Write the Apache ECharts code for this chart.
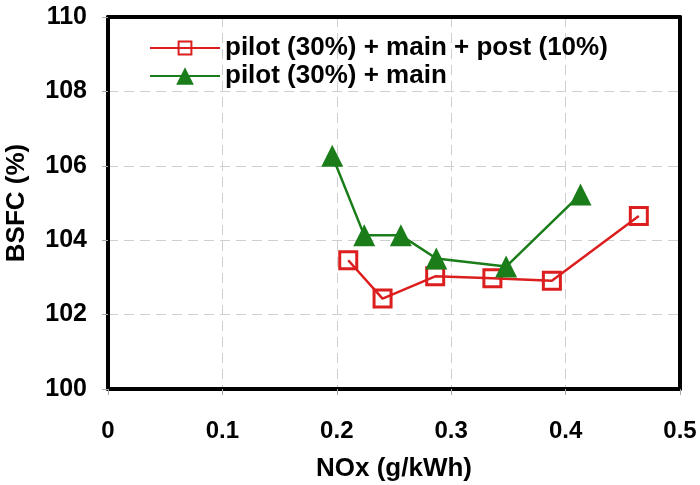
<!DOCTYPE html>
<html>
<head>
<meta charset="utf-8">
<script src="https://cdn.jsdelivr.net/npm/echarts@6/dist/echarts.min.js"></script>
<style>
  html, body { margin: 0; padding: 0; background: #fff; }
  #chart { width: 700px; height: 485px; }
</style>
</head>
<body>
<div id="chart"></div>
<script>
// NOx emissions (g/kWh) and relative BSFC (%) for the two injection strategies
const seriesNames = ['pilot (30%) + main + post (10%)', 'pilot (30%) + main'];

const postNOx  = [0.210, 0.240, 0.286, 0.336, 0.388, 0.464];
const postBSFC = [103.46, 102.43, 103.03, 102.98, 102.91, 104.65];

const mainNOx  = [0.196, 0.224, 0.256, 0.287, 0.348, 0.413];
const mainBSFC = [106.27, 104.13, 104.13, 103.51, 103.29, 105.23];

const xTickLabels = ['0', '0.1', '0.2', '0.3', '0.4', '0.5'];
const yTickLabels = ['100', '102', '104', '106', '108', '110'];

const RED = '#dc1e1e';
const GREEN = '#1a7d1a';
const FONT = '"Liberation Sans", Arial, sans-serif';

function pairs(xs, ys) {
  return xs.map((x, i) => [x, ys[i]]);
}

const chart = echarts.init(document.getElementById('chart'), null, { renderer: 'canvas' });

const gridLine = { show: true, lineStyle: { color: '#cfcfcf', width: 1, type: [10, 6] } };
const frameLine = { show: true, onZero: false, lineStyle: { color: '#000', width: 4 } };
const tickStyle = { show: true, inside: false, length: 6, lineStyle: { color: '#aaa', width: 1 } };
const labelFont = { fontFamily: FONT, fontWeight: 'bold', color: '#000' };

// top and right axes only close the black frame around the plot
const frameX = {
  type: 'value', position: 'top', min: 0, max: 0.5, interval: 0.1,
  axisLine: frameLine, axisTick: { show: false }, axisLabel: { show: false }, splitLine: { show: false }
};
const frameY = {
  type: 'value', position: 'right', min: 100, max: 110, interval: 2,
  axisLine: frameLine, axisTick: { show: false }, axisLabel: { show: false }, splitLine: { show: false }
};

chart.setOption({
  animation: false,
  backgroundColor: '#fff',
  grid: { left: 108, right: 20, top: 17, bottom: 96, outerBoundsMode: 'none', containLabel: false },
  legend: [
    {
      data: [seriesNames[0]],
      orient: 'vertical',
      left: 144, top: 30,
      itemWidth: 70, itemHeight: 16,
      textStyle: Object.assign({ fontSize: 26 }, labelFont)
    },
    {
      data: [seriesNames[1]],
      orient: 'vertical',
      left: 144, top: 58,
      itemWidth: 70, itemHeight: 22,
      textStyle: Object.assign({ fontSize: 26 }, labelFont)
    }
  ],
  xAxis: [
    {
      type: 'value',
      position: 'bottom',
      min: 0, max: 0.5, interval: 0.1,
      name: 'NOx (g/kWh)',
      nameLocation: 'middle',
      nameGap: 67,
      nameTextStyle: Object.assign({ fontSize: 26 }, labelFont),
      axisLine: frameLine,
      axisTick: tickStyle,
      axisLabel: Object.assign({
        margin: 30, fontSize: 24,
        formatter: (v) => xTickLabels[Math.round(v * 10)]
      }, labelFont),
      splitLine: gridLine
    },
    frameX
  ],
  yAxis: [
    {
      type: 'value',
      position: 'left',
      min: 100, max: 110, interval: 2,
      name: 'BSFC (%)',
      nameLocation: 'middle',
      nameGap: 78,
      nameTextStyle: Object.assign({ fontSize: 26 }, labelFont),
      axisLine: frameLine,
      axisTick: tickStyle,
      axisLabel: Object.assign({
        margin: 21, fontSize: 25,
        formatter: (v) => yTickLabels[Math.round((v - 100) / 2)]
      }, labelFont),
      splitLine: gridLine
    },
    frameY
  ],
  series: [
    {
      name: seriesNames[0],
      type: 'line',
      xAxisIndex: 0, yAxisIndex: 0,
      data: pairs(postNOx, postBSFC),
      symbol: 'rect',
      symbolSize: 17,
      lineStyle: { color: RED, width: 2.5 },
      itemStyle: { color: 'rgba(255,255,255,0)', borderColor: RED, borderWidth: 3 },
      z: 3
    },
    {
      name: seriesNames[1],
      type: 'line',
      xAxisIndex: 0, yAxisIndex: 0,
      data: pairs(mainNOx, mainBSFC),
      symbol: 'triangle',
      symbolSize: [22, 22],
      lineStyle: { color: GREEN, width: 2.5 },
      itemStyle: { color: GREEN, borderWidth: 0 },
      z: 4
    }
  ]
});
</script>
</body>
</html>
